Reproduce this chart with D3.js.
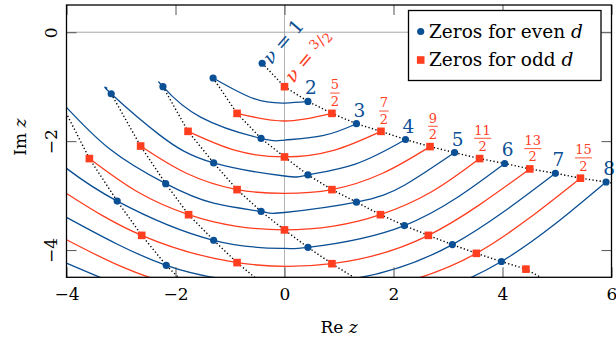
<!DOCTYPE html>
<html>
<head>
<meta charset="utf-8">
<script src="https://cdn.jsdelivr.net/npm/d3@7"></script>
<style>
  body { margin: 0; background: #fff; }
  svg { display: block; font-family: 'DejaVu Serif', serif; }
</style>
</head>
<body>
<svg id="chart" width="616" height="342"></svg>
<script>
// Zeros along each dotted line, first zero (k = 1) to k = 5: [nu, Re z, Im z]
// (a few points past the frame only carry the lines to the edge)
const zerosK1 = [
  [1, -0.41, -0.57], [1.5, 0.00, -1.00], [2, 0.43, -1.27], [2.5, 0.87, -1.49],
  [3, 1.32, -1.68], [3.5, 1.77, -1.82], [4, 2.22, -1.97], [4.5, 2.67, -2.10],
  [5, 3.12, -2.21], [5.5, 3.58, -2.32], [6, 4.04, -2.41], [6.5, 4.50, -2.51],
  [7, 4.97, -2.59], [7.5, 5.43, -2.68], [8, 5.90, -2.75], [8.5, 6.37, -2.83]
];
const zerosK2 = [
  [2, -1.31, -0.84], [2.5, -0.87, -1.49], [3, -0.43, -1.95], [3.5, 0.00, -2.29],
  [4, 0.43, -2.62], [4.5, 0.87, -2.89], [5, 1.32, -3.12], [5.5, 1.76, -3.35],
  [6, 2.20, -3.55], [6.5, 2.64, -3.73], [7, 3.08, -3.90], [7.5, 3.52, -4.06],
  [8, 3.98, -4.21], [8.5, 4.43, -4.35], [9, 4.88, -4.60]
];
const zerosK3 = [
  [3, -2.23, -1.00], [3.5, -1.77, -1.82], [4, -1.30, -2.40], [4.5, -0.87, -2.89],
  [5, -0.43, -3.29], [5.5, 0.00, -3.63], [6, 0.43, -3.95], [6.5, 0.87, -4.25],
  [7, 1.30, -4.52]
];
const zerosK4 = [
  [4, -3.18, -1.13], [4.5, -2.64, -2.09], [5, -2.18, -2.78], [5.5, -1.76, -3.35],
  [6, -1.30, -3.82], [6.5, -0.87, -4.23], [7, -0.43, -4.60]
];
const zerosK5 = [
  [5, -4.13, -1.24], [5.5, -3.58, -2.32], [6, -3.07, -3.10], [6.5, -2.62, -3.73],
  [7, -2.17, -4.28], [7.5, -1.74, -4.71]
];

// nu values that get a solid curve, and extra points
const arcNus = [2, 2.5, 3, 3.5, 4, 4.5, 5, 5.5, 6, 6.5, 7, 7.5, 8];
const arcExtra = [
  [2, -0.56, -1.22], [2, 0, -1.30],
  [2.5, 0, -1.63],
  [3, -2.29, -0.93], [3, -1.54, -1.56], [3, 0, -1.98], [3, 0.70, -1.90],
  [3.5, -0.90, -2.17], [3.5, 0.90, -2.17],
  [4, -3.25, -1.03], [4, -2.30, -1.88], [4, 0, -2.64], [4, 1.30, -2.42],
  [4.5, -1.80, -2.59], [4.5, 0, -2.96], [4.5, 1.80, -2.59],
  [5, -3.20, -2.15], [5, -1.30, -3.14], [5, 0, -3.31], [5, 2.20, -2.81],
  [5.5, -2.70, -2.93], [5.5, -0.90, -3.56], [5.5, 0.90, -3.56], [5.5, 2.70, -2.93],
  [6, -4.00, -2.50], [6, 0, -3.97],
  [6.5, -4.00, -2.96],
  [7, -4.00, -3.40],
  [7.5, -4.00, -3.81], [7.5, -3.00, -4.30], [7.5, 0, -4.91], [7.5, 1.76, -4.70],
  [8, -4.00, -4.24], [8, -2.00, -4.99], [8, 0, -5.23], [8, 2.00, -4.99]
];

const xTicks = [-4, -2, 0, 2, 4, 6];
const yTicks = [0, -2, -4];
const legendLabels = ['Zeros for even ', 'Zeros for odd '];

const blue = '#0b4f95';
const red = '#ff3d1f';
const allZeros = [zerosK1, zerosK2, zerosK3, zerosK4, zerosK5];
const isEven = nu => Number.isInteger(nu);

const svg = d3.select('#chart');

const x = d3.scaleLinear().domain([-4, 6]).range([66.5, 611.5]);
const y = d3.scaleLinear().domain([-4.5, 0.5]).range([277.3, 5]);
const inside = d => d[1] >= -4 && d[1] <= 6 && d[2] >= -4.5 && d[2] <= 0.5;

svg.append('clipPath').attr('id', 'plotClip')
  .append('rect')
  .attr('x', x(-4)).attr('y', y(0.5))
  .attr('width', x(6) - x(-4)).attr('height', y(-4.5) - y(0.5));

const plot = svg.append('g').attr('clip-path', 'url(#plotClip)');

// light zero lines
plot.append('line')
  .attr('x1', x(0)).attr('x2', x(0)).attr('y1', y(0.5)).attr('y2', y(-4.5))
  .attr('stroke', '#b4b4b4').attr('stroke-width', 1);
plot.append('line')
  .attr('x1', x(-4)).attr('x2', x(6)).attr('y1', y(0)).attr('y2', y(0))
  .attr('stroke', '#a8a8a8').attr('stroke-width', 1);

// solid curves, one per nu
const arcLine = d3.line().x(d => x(d[1])).y(d => y(d[2])).curve(d3.curveNatural);
const flatZeros = allZeros.flat();
arcNus.forEach(nu => {
  const pts = flatZeros.filter(d => d[0] === nu)
    .concat(arcExtra.filter(d => d[0] === nu))
    .sort((a, b) => a[1] - b[1]);
  plot.append('path')
    .attr('d', arcLine(pts))
    .attr('fill', 'none')
    .attr('stroke', isEven(nu) ? blue : red)
    .attr('stroke-width', 1.3);
});

// dotted lines joining the k-th zeros
const dotLine = d3.line().x(d => x(d[1])).y(d => y(d[2]));
allZeros.forEach(zs => {
  plot.append('path')
    .attr('d', dotLine(zs))
    .attr('fill', 'none')
    .attr('stroke', '#000')
    .attr('stroke-width', 1.4)
    .attr('stroke-dasharray', '1.3 2.3');
});

// ticks on all four sides, pointing inwards
function styleAxis(g) {
  g.attr('font-family', null).attr('font-size', 17);
  g.select('.domain').remove();
  g.selectAll('.tick line').attr('stroke', '#555').attr('stroke-width', 1);
  g.selectAll('.tick text').attr('fill', '#000');
}
const fmt = d3.format('d');
svg.append('g').attr('transform', `translate(0,${y(-4.5)})`)
  .call(d3.axisBottom(x).tickValues(xTicks).tickSize(-10).tickPadding(11).tickFormat(fmt))
  .call(styleAxis);
svg.append('g').attr('transform', `translate(0,${y(0.5)})`)
  .call(d3.axisTop(x).tickValues(xTicks).tickSize(-10).tickFormat(''))
  .call(styleAxis);
const gy = svg.append('g').attr('transform', `translate(${x(-4)},0)`)
  .call(d3.axisLeft(y).tickValues(yTicks).tickSize(-10).tickFormat(fmt))
  .call(styleAxis);
gy.selectAll('.tick text')
  .attr('transform', 'rotate(-90)')
  .attr('x', 0).attr('y', -9.5).attr('dy', 0)
  .attr('text-anchor', 'middle');
svg.append('g').attr('transform', `translate(${x(6)},0)`)
  .call(d3.axisRight(y).tickValues(yTicks).tickSize(-10).tickFormat(''))
  .call(styleAxis);

// markers
const marks = svg.append('g');
const shown = flatZeros.filter(inside);
marks.selectAll('circle').data(shown.filter(d => isEven(d[0]))).join('circle')
  .attr('cx', d => x(d[1])).attr('cy', d => y(d[2])).attr('r', 3.6)
  .attr('fill', blue);
marks.selectAll('rect').data(shown.filter(d => !isEven(d[0]))).join('rect')
  .attr('x', d => x(d[1]) - 3.8).attr('y', d => y(d[2]) - 3.8)
  .attr('width', 7.6).attr('height', 7.6)
  .attr('fill', red);

// labels at the first zeros
const labels = svg.append('g');
zerosK1.filter(d => d[0] >= 2 && inside(d)).forEach(d => {
  const cx = x(d[1]) + 3, cy = y(d[2]);
  if (isEven(d[0])) {
    labels.append('text')
      .attr('x', cx).attr('y', cy - 7)
      .attr('text-anchor', 'middle').attr('font-size', 18.5)
      .attr('fill', blue)
      .text(String(d[0]));
  } else {
    // stacked fraction (2nu)/2
    const num = String(d[0] * 2);
    const w = num.length > 1 ? 17 : 9.5;
    labels.append('text')
      .attr('x', cx).attr('y', cy - 24)
      .attr('text-anchor', 'middle').attr('font-size', 13)
      .attr('fill', red).text(num);
    labels.append('line')
      .attr('x1', cx - w / 2).attr('x2', cx + w / 2)
      .attr('y1', cy - 20.3).attr('y2', cy - 20.3)
      .attr('stroke', red).attr('stroke-width', 0.9);
    labels.append('text')
      .attr('x', cx).attr('y', cy - 7.5)
      .attr('text-anchor', 'middle').attr('font-size', 13)
      .attr('fill', red).text('2');
  }
});

// sloped labels nu = 1 and nu = 3/2
const nu1 = zerosK1[0], nu32 = zerosK1[1];
const t1 = labels.append('text')
  .attr('transform', `translate(${x(nu1[1]) + 9},${y(nu1[2]) + 2}) rotate(-49)`)
  .attr('font-size', 19).attr('fill', blue);
t1.append('tspan').attr('font-style', 'italic').text('ν');
t1.append('tspan').text(' = 1');
const t2 = labels.append('text')
  .attr('transform', `translate(${x(nu32[1]) + 9},${y(nu32[2]) - 3}) rotate(-50)`)
  .attr('font-size', 19).attr('fill', red);
t2.append('tspan').attr('font-style', 'italic').text('ν');
t2.append('tspan').text(' = ');
t2.append('tspan').attr('font-size', 13).attr('dy', -5).text('3');
t2.append('tspan').attr('font-size', 15).attr('dy', 3).text('/');
t2.append('tspan').attr('font-size', 13).attr('dy', 3).text('2');

// frame
svg.append('rect')
  .attr('x', x(-4)).attr('y', y(0.5))
  .attr('width', x(6) - x(-4)).attr('height', y(-4.5) - y(0.5))
  .attr('fill', 'none').attr('stroke', '#000').attr('stroke-width', 1.3);

// axis titles
const xt = svg.append('text')
  .attr('x', (x(-4) + x(6)) / 2).attr('y', 333)
  .attr('text-anchor', 'middle').attr('font-size', 17);
xt.append('tspan').text('Re ');
xt.append('tspan').attr('font-style', 'italic').text('z');
const yt = svg.append('text')
  .attr('transform', `translate(26,${(y(0.5) + y(-4.5)) / 2 - 4}) rotate(-90)`)
  .attr('text-anchor', 'middle').attr('font-size', 17);
yt.append('tspan').text('Im ');
yt.append('tspan').attr('font-style', 'italic').text('z');

// legend
const legend = svg.append('g');
legend.append('rect')
  .attr('x', 408.5).attr('y', 10.5).attr('width', 192.5).attr('height', 70)
  .attr('fill', '#fff').attr('stroke', '#000').attr('stroke-width', 1.3);
legendLabels.forEach((lab, i) => {
  const ly = 31.5 + i * 28.5;
  if (i === 0) {
    legend.append('circle').attr('cx', 420.7).attr('cy', ly).attr('r', 3.6).attr('fill', blue);
  } else {
    legend.append('rect').attr('x', 416.9).attr('y', ly - 3.8)
      .attr('width', 7.6).attr('height', 7.6).attr('fill', red);
  }
  const t = legend.append('text').attr('x', 429).attr('y', ly + 6).attr('font-size', 18.5);
  t.append('tspan').text(lab);
  t.append('tspan').attr('font-style', 'italic').text('d');
});
</script>
</body>
</html>
